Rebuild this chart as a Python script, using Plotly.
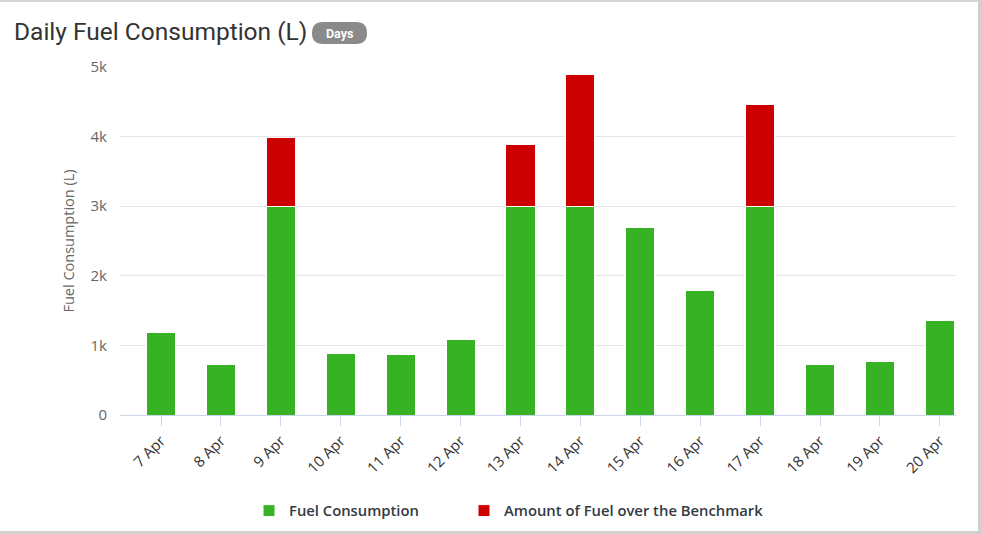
import plotly.graph_objects as go

# ---- data ----
days = ["7 Apr", "8 Apr", "9 Apr", "10 Apr", "11 Apr", "12 Apr", "13 Apr",
        "14 Apr", "15 Apr", "16 Apr", "17 Apr", "18 Apr", "19 Apr", "20 Apr"]
fuel_consumption = [1190, 730, 3000, 890, 870, 1080, 3000,
                    3000, 2695, 1795, 3000, 730, 775, 1365]
over_benchmark = [None, None, 985, None, None, None, 890,
                  1895, None, None, 1460, None, None, None]
y_ticks = [0, 1000, 2000, 3000, 4000, 5000]
y_tick_labels = ["0", "1k", "2k", "3k", "4k", "5k"]

W, H = 982, 534
L, R, T, B = 120, 956, 67, 415  # plot area in pixels


def px_x(p):
    return (p - L) / (R - L)


def px_y(p):
    return (B - p) / (B - T)


fig = go.Figure()
fig.add_trace(go.Bar(
    x=days, y=fuel_consumption, name="Fuel Consumption", legend="legend",
    showlegend=True,
    marker=dict(color="#36b224", line=dict(color="#ffffff", width=1)),
))
fig.add_trace(go.Bar(
    x=days, y=over_benchmark, name="Amount of Fuel over the Benchmark",
    legend="legend2", showlegend=True,
    marker=dict(color="#cc0000", line=dict(color="#ffffff", width=1)),
))

# pill badge "Days"
bx0, bx1, by0, by1, r = 312, 367, 22, 44, 11
path = (f"M {px_x(bx0 + r)} {px_y(by0)} L {px_x(bx1 - r)} {px_y(by0)} "
        f"Q {px_x(bx1)} {px_y(by0)} {px_x(bx1)} {px_y((by0 + by1) / 2)} "
        f"Q {px_x(bx1)} {px_y(by1)} {px_x(bx1 - r)} {px_y(by1)} "
        f"L {px_x(bx0 + r)} {px_y(by1)} "
        f"Q {px_x(bx0)} {px_y(by1)} {px_x(bx0)} {px_y((by0 + by1) / 2)} "
        f"Q {px_x(bx0)} {px_y(by0)} {px_x(bx0 + r)} {px_y(by0)} Z")

shapes = [
    dict(type="path", xref="paper", yref="paper", path=path,
         fillcolor="#8a8a8a", line=dict(width=0), layer="above"),
    # card borders
    dict(type="rect", xref="paper", yref="paper",
         x0=px_x(0), x1=px_x(982), y0=px_y(0), y1=px_y(2),
         fillcolor="#d6d6d6", line=dict(width=0)),
    dict(type="rect", xref="paper", yref="paper",
         x0=px_x(978), x1=px_x(982), y0=px_y(0), y1=px_y(534),
         fillcolor="#d0d0d0", line=dict(width=0)),
    dict(type="rect", xref="paper", yref="paper",
         x0=px_x(0), x1=px_x(982), y0=px_y(531), y1=px_y(534),
         fillcolor="#d0d0d0", line=dict(width=0)),
]

annotations = [
    dict(text="Daily Fuel Consumption (L)", xref="paper", yref="paper",
         x=px_x(12), y=px_y(31), xanchor="left", yanchor="middle",
         showarrow=False, font=dict(family="Roboto", size=24.5, color="#333333")),
    dict(text="<b>Days</b>", xref="paper", yref="paper",
         x=px_x((bx0 + bx1) / 2), y=px_y((by0 + by1) / 2 + 1),
         xanchor="center", yanchor="middle", showarrow=False,
         font=dict(family="Roboto", size=12.5, color="#ffffff")),
]

legend_common = dict(orientation="h", xanchor="left", yanchor="middle",
                     y=px_y(511), itemwidth=30,
                     font=dict(family="Open Sans", size=14.8, color="#333a44", weight=600))

fig.update_layout(
    width=W, height=H, showlegend=True,
    margin=dict(l=L, r=W - R, t=T, b=H - B, autoexpand=False),
    paper_bgcolor="#ffffff", plot_bgcolor="#ffffff",
    barmode="stack", bargap=0.515,
    shapes=shapes, annotations=annotations,
    font=dict(family="Open Sans", color="#666666"),
    legend=dict(x=px_x(249), **legend_common),
    legend2=dict(x=px_x(464), **legend_common),
    xaxis=dict(
        type="category", range=[-0.685, 13.27],
        showgrid=False, showline=True, linecolor="#ccd6eb", linewidth=1,
        ticks="outside", ticklen=10, tickcolor="#ccd6eb",
        tickangle=-45, tickfont=dict(family="Open Sans", size=15, color="#333333"),
    ),
    yaxis=dict(
        range=[0, 5000], tickvals=y_ticks, ticktext=y_tick_labels,
        showgrid=True, gridcolor="#e6e6e6", gridwidth=1, zeroline=False,
        showline=False, ticks="", ticklabelstandoff=12,
        tickfont=dict(family="Open Sans", size=15, color="#666666"),
        title=dict(text="Fuel Consumption (L)", standoff=12,
                   font=dict(family="Open Sans", size=14.5, color="#666666")),
    ),
)

fig.write_html("out.html", config={"displayModeBar": False},
               post_script="document.body.style.margin='0';")
